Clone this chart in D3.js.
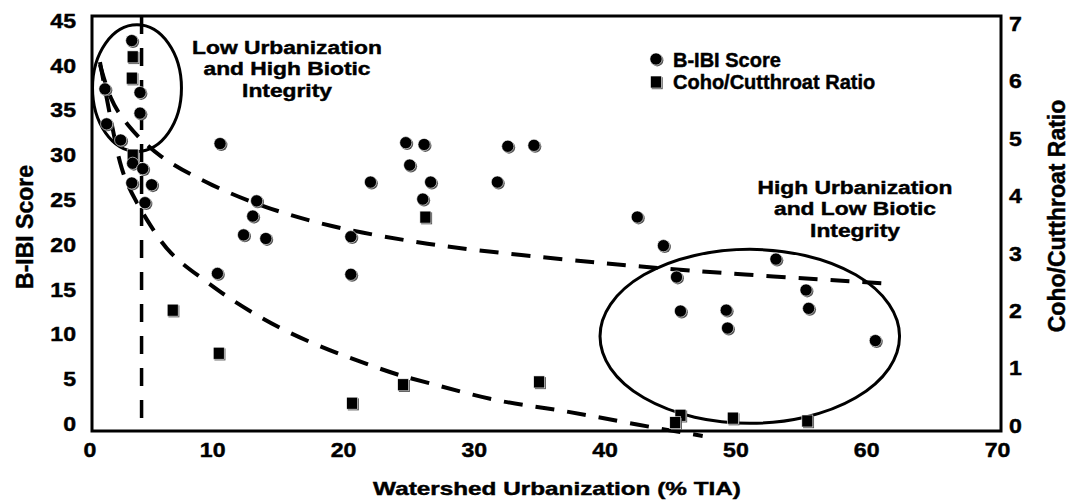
<!DOCTYPE html>
<html>
<head>
<meta charset="utf-8">
<script src="https://cdn.jsdelivr.net/npm/d3@7"></script>
<style>
body { margin: 0; background: #fff; }
text { font-family: "Liberation Sans", Arial, sans-serif; font-weight: bold; fill: #000; stroke: #000; stroke-width: 0.45px; }
</style>
</head>
<body>
<div id="chart"></div>
<script>
// B-IBI score, left axis
var bibiX = [3.85, 4.48, 4.48, 1.80, 1.93, 3.0, 3.92, 4.69, 3.85, 5.37, 4.86, 10.6, 13.4, 13.1, 12.4, 14.1,
    20.6, 10.4, 20.6, 22.1, 24.8, 26.2, 25.1, 26.7, 26.1, 32.6, 34.6, 31.8, 42.5, 44.5, 45.5, 45.8,
    49.3, 49.4, 53.1, 55.4, 55.6, 60.7];
var bibiY = [42.7, 36.9, 34.6, 37.3, 33.4, 31.6, 29.0, 28.4, 26.8, 26.6, 24.6, 31.2, 24.8, 23.1, 21.0, 20.6,
    20.8, 16.7, 16.6, 26.9, 31.3, 31.1, 28.8, 26.9, 25.0, 30.9, 31.0, 26.9, 23.0, 19.8, 16.3, 12.5,
    12.6, 10.6, 18.3, 14.85, 12.8, 9.2];

// coho/cutthroat ratio, right axis
var ratioX = [3.92, 3.85, 3.92, 6.98, 10.5, 24.6, 20.7, 26.3, 35.0, 45.8, 45.4, 49.8, 55.5];
var ratioY = [6.41, 6.04, 4.70, 2.00, 1.25, 0.70, 0.38, 3.62, 0.75, 0.17, 0.04, 0.12, 0.07];

// trend lines
var bibiFitX = [1.42, 2.19, 3.33, 5.78, 10.1, 13.9, 19.0, 25.0, 29.9, 37.4, 42.3, 50.2, 61.3];
var bibiFitY = [40.0, 36.1, 33.5, 29.7, 26.4, 24.1, 21.9, 20.3, 19.3, 18.2, 17.5, 16.6, 15.6];
var ratioFitX = [1.42, 1.88, 2.34, 3.03, 4.10, 5.24, 6.77, 9.07, 11.0, 13.1, 15.3, 17.6, 19.9, 22.2, 24.6, 27.0, 31.8, 36.8, 41.8, 47.5];
var ratioFitY = [6.32, 5.75, 5.22, 4.41, 3.92, 3.48, 2.96, 2.58, 2.25, 1.95, 1.67, 1.43, 1.22, 1.03, 0.84, 0.71, 0.40, 0.26, 0.03, -0.19];

var threshold = 4.6;
var xTicks = [0, 10, 20, 30, 40, 50, 60, 70];
var yTicks = [0, 5, 10, 15, 20, 25, 30, 35, 40, 45];
var y2Ticks = [0, 1, 2, 3, 4, 5, 6, 7];

var width = 1071, height = 503;
var x = d3.scaleLinear().domain([0, 70]).range([81.4, 997]);
var y = d3.scaleLinear().domain([0, 45]).range([423, 20]);
var y2 = d3.scaleLinear().domain([0, 7]).range([425, 23]);

var svg = d3.select("#chart").append("svg")
    .attr("width", width)
    .attr("height", height);

// widen text horizontally like the original
function stretch(sel, sx) {
    sel.each(function() {
        var t = d3.select(this);
        var tx = +t.attr("x") || 0, ty = +t.attr("y") || 0;
        t.attr("x", 0).attr("y", 0)
            .attr("transform", "translate(" + tx + "," + ty + ") scale(" + sx + ",1)");
    });
}

// frame
svg.append("rect")
    .attr("x", 92).attr("y", 16)
    .attr("width", 909).attr("height", 415)
    .style("fill", "none").style("stroke", "#000").style("stroke-width", 3);

// axes
var gx = svg.append("g")
    .attr("transform", "translate(0,431)")
    .call(d3.axisBottom(x).tickValues(xTicks).tickSize(0));
gx.select(".domain").remove();
gx.selectAll("text").attr("y", 26).attr("dy", null)
    .attr("x", function(d) { return d == 0 ? 8 : 0; })
    .style("font-size", "21px").style("font-family", null);
stretch(gx.selectAll("text"), 1.1);

var gy = svg.append("g")
    .attr("transform", "translate(92,0)")
    .call(d3.axisLeft(y).tickValues(yTicks).tickSize(0));
gy.select(".domain").remove();
gy.selectAll("text").attr("x", -16).attr("dy", "0.35em")
    .style("font-size", "21px").style("font-family", null);
stretch(gy.selectAll("text"), 1.1);

var gy2 = svg.append("g")
    .attr("transform", "translate(1001,0)")
    .call(d3.axisRight(y2).tickValues(y2Ticks).tickFormat(d3.format("d")).tickSize(0));
gy2.select(".domain").remove();
gy2.selectAll("text").attr("x", 8).attr("dy", "0.35em")
    .style("font-size", "21px").style("font-family", null);
stretch(gy2.selectAll("text"), 1.1);

// axis titles
var xt = svg.append("text")
    .attr("x", 557).attr("y", 495)
    .attr("text-anchor", "middle")
    .style("font-size", "19px")
    .text("Watershed Urbanization (% TIA)");
stretch(xt, 1.28);

svg.append("text")
    .attr("transform", "translate(33,227) rotate(-90)")
    .attr("text-anchor", "middle")
    .style("font-size", "23px")
    .text("B-IBI Score");

svg.append("text")
    .attr("transform", "translate(1065,216) rotate(-90)")
    .attr("text-anchor", "middle")
    .style("font-size", "23px")
    .text("Coho/Cutthroat Ratio");

// threshold line
svg.append("line")
    .attr("x1", x(threshold)).attr("x2", x(threshold))
    .attr("y1", 16).attr("y2", 431)
    .style("stroke", "#000").style("stroke-width", 3.5)
    .style("stroke-dasharray", "18,14");

// trend lines
var line1 = d3.line()
    .x(function(d) { return x(d[0]); })
    .y(function(d) { return y(d[1]); })
    .curve(d3.curveBasis);
var line2 = d3.line()
    .x(function(d) { return x(d[0]); })
    .y(function(d) { return y2(d[1]); })
    .curve(d3.curveBasis);

svg.append("path")
    .datum(d3.zip(bibiFitX, bibiFitY))
    .attr("d", line1)
    .style("fill", "none").style("stroke", "#000").style("stroke-width", 4)
    .style("stroke-dasharray", "19,13");
svg.append("path")
    .datum(d3.zip(ratioFitX, ratioFitY))
    .attr("d", line2)
    .style("fill", "none").style("stroke", "#000").style("stroke-width", 4)
    .style("stroke-dasharray", "19,13");

// ellipses round the two groups
svg.append("ellipse")
    .attr("cx", x(4.25)).attr("cy", y(37.4))
    .attr("rx", x(3.40) - x(0)).attr("ry", y(0) - y(7.07))
    .style("fill", "none").style("stroke", "#000").style("stroke-width", 3);
svg.append("ellipse")
    .attr("cx", x(51.1)).attr("cy", y(9.68))
    .attr("rx", x(11.45) - x(0)).attr("ry", y(0) - y(9.71))
    .style("fill", "none").style("stroke", "#000").style("stroke-width", 3);

// markers
function circleMark(g, cx, cy) {
    g.append("circle").attr("cx", cx + 1.2).attr("cy", cy + 1.2).attr("r", 6.2).style("fill", "#555");
    g.append("circle").attr("cx", cx).attr("cy", cy).attr("r", 6.1)
        .style("fill", "#000").style("stroke", "#fff").style("stroke-width", 0.6);
}
function squareMark(g, cx, cy) {
    g.append("rect").attr("x", cx - 5.5 + 1.2).attr("y", cy - 6 + 1.2)
        .attr("width", 11).attr("height", 12).style("fill", "#555");
    g.append("rect").attr("x", cx - 5.5).attr("y", cy - 6)
        .attr("width", 11).attr("height", 12)
        .style("fill", "#000").style("stroke", "#fff").style("stroke-width", 0.6);
}

var marks = svg.append("g");
ratioX.forEach(function(v, i) { squareMark(marks, x(v), y2(ratioY[i])); });
bibiX.forEach(function(v, i) { circleMark(marks, x(v), y(bibiY[i])); });

// legend
var lg = svg.append("g");
circleMark(lg, 656, 59);
squareMark(lg, 656, 82);
lg.selectAll(".lt")
    .data(["B-IBI Score", "Coho/Cutthroat Ratio"])
    .enter().append("text")
    .attr("x", 673)
    .attr("y", function(d, i) { return i == 0 ? 66.5 : 88.5; })
    .style("font-size", "20px")
    .text(function(d) { return d; });

// annotations
var lowText = ["Low Urbanization", "and High Biotic", "Integrity"];
var lt1 = svg.selectAll(".low")
    .data(lowText)
    .enter().append("text")
    .attr("x", 287)
    .attr("y", function(d, i) { return 53.5 + i * 21.5; })
    .attr("text-anchor", "middle")
    .style("font-size", "19px")
    .text(function(d) { return d; });
stretch(lt1, 1.2);

var highText = ["High Urbanization", "and Low Biotic", "Integrity"];
var lt2 = svg.selectAll(".high")
    .data(highText)
    .enter().append("text")
    .attr("x", 855)
    .attr("y", function(d, i) { return 193.5 + i * 21.5; })
    .attr("text-anchor", "middle")
    .style("font-size", "19px")
    .text(function(d) { return d; });
stretch(lt2, 1.2);
</script>
</body>
</html>
